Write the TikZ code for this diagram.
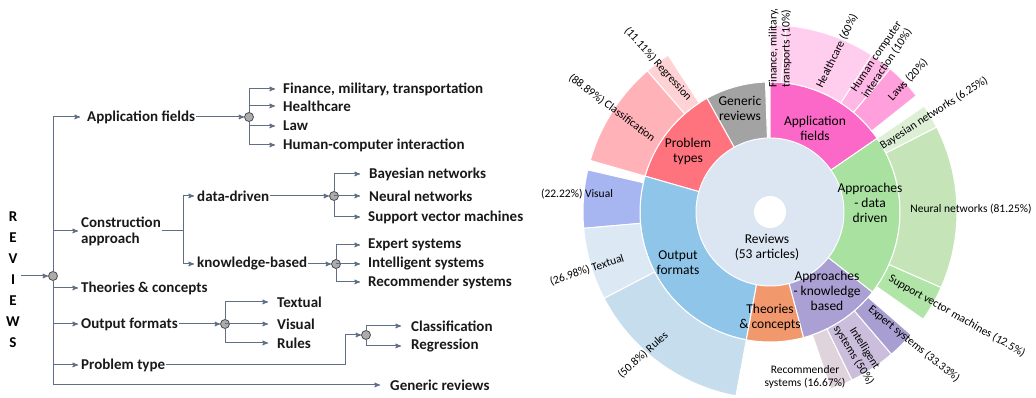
\documentclass[tikz,border=0pt]{standalone}
\usepackage{fontspec}
\setmainfont{Carlito}
\usepackage{xcolor}
\usetikzlibrary{arrows, positioning}

\definecolor{linkgray}{HTML}{5F6F86}
\definecolor{revblue}{HTML}{DCE6F2}
\definecolor{apppink}{HTML}{FB68C7}
\definecolor{finpink}{HTML}{FFD9F2}
\definecolor{healthpink}{HTML}{FFCDED}
\definecolor{hcipink}{HTML}{FFB8E6}
\definecolor{lawspink}{HTML}{FF9FDC}
\definecolor{genericgray}{HTML}{A3A3A3}
\definecolor{probred}{HTML}{FF737E}
\definecolor{classpink}{HTML}{FFB3B9}
\definecolor{regrpink}{HTML}{FFD2D6}
\definecolor{outblue}{HTML}{8FC5E9}
\definecolor{visualblue}{HTML}{A7B5F0}
\definecolor{textualblue}{HTML}{DDE8F5}
\definecolor{rulesblue}{HTML}{C6DDEE}
\definecolor{theoorange}{HTML}{F2986D}
\definecolor{knowpurple}{HTML}{AAA0D3}
\definecolor{expertpurple}{HTML}{A89ED1}
\definecolor{intelpurple}{HTML}{CBBEDC}
\definecolor{recommgray}{HTML}{E0D4DC}
\definecolor{datagreen}{HTML}{A8E1A0}
\definecolor{bayesgreen}{HTML}{DDF0D5}
\definecolor{neuralgreen}{HTML}{C5E5B8}
\definecolor{svmgreen}{HTML}{B1E5A8}

% one piece of a ring: start angle, end angle, inner radius, outer radius, colour
\newcommand{\ringpart}[5]{%
  \fill[#5, draw=white, line width=1pt] (#1:#3pt) arc[start angle=#1, end angle=#2, radius=#3pt]
    -- (#2:#4pt) arc[start angle=#2, end angle=#1, radius=#4pt] -- cycle;}

\begin{document}
\begin{tikzpicture}[x=1pt, y=1pt, >=stealth']
    \tikzstyle{leaf} = [font=\bfseries\fontsize{15}{16}\selectfont, anchor=west, inner sep=1pt, text=black!90]
    \tikzstyle{hub} = [circle, draw=black!70, fill=gray!65, line width=0.8pt, minimum size=9pt, inner sep=0pt]
    \tikzstyle{link} = [draw=linkgray, line width=1pt]
    \tikzstyle{arr} = [link, ->, shorten >=2pt]
    \tikzstyle{seglabel} = [font=\fontsize{13.5}{15}\selectfont, align=center, inner sep=0pt, text=black]
    \tikzstyle{outlabel} = [font=\fontsize{11.5}{13}\selectfont, align=center, inner sep=0pt, text=black]
    \useasboundingbox (0,0) rectangle (1036,398);

    % the tree
    \node [font=\bfseries\fontsize{15}{21}\selectfont, align=center, inner sep=1pt] at (13,118) (reviews) {R\\E\\V\\I\\E\\W\\S};
    \node [hub] at (53,122) (root) {};
    \node [leaf] at (86,281) (appf) {Application fields};
    \node [leaf, align=left] at (80,167) (constr) {Construction\\approach};
    \node [leaf] at (80,110) (theor) {Theories \& concepts};
    \node [leaf] at (80,74) (outf) {Output formats};
    \node [leaf] at (80,33) (probt) {Problem type};
    \node [leaf] at (389,13) (generic) {Generic reviews};

    \node [hub] at (249,281) (capp) {};
    \node [leaf] at (282,309) (fin) {Finance, military, transportation};
    \node [leaf] at (282,292) (health) {Healthcare};
    \node [leaf] at (282,272) (law) {Law};
    \node [leaf] at (282,253) (hci) {Human-computer interaction};

    \coordinate (csplit) at (183,167);
    \node [leaf] at (196,202) (datad) {data-driven};
    \node [leaf] at (196,134) (knowb) {knowledge-based};
    \node [hub] at (334,202) (cdata) {};
    \node [leaf] at (368,224) (bayes) {Bayesian networks};
    \node [leaf] at (368,202) (neural) {Neural networks};
    \node [leaf] at (367,181) (svm) {Support vector machines};
    \node [hub] at (336,134) (cknow) {};
    \node [leaf] at (367,153) (expert) {Expert systems};
    \node [leaf] at (367,134) (intel) {Intelligent systems};
    \node [leaf] at (367,116) (recomm) {Recommender systems};

    \node [hub] at (225,74) (cout) {};
    \node [leaf] at (276,96) (textual) {Textual};
    \node [leaf] at (276,74) (visual) {Visual};
    \node [leaf] at (276,55) (rules) {Rules};

    \coordinate (pbend) at (345,33);
    \node [hub] at (366,63) (cprob) {};
    \node [leaf] at (410,72) (classif) {Classification};
    \node [leaf] at (410,52) (regr) {Regression};

    \draw [link, ->] (reviews.east |- root) -- (root);
    \draw [arr, shorten >=6pt] (root) |- (appf);
    \draw [arr] (root) |- (constr);
    \draw [arr] (root) |- (theor);
    \draw [arr] (root) |- (outf);
    \draw [arr] (root) |- (probt);
    \draw [arr, shorten >=9pt] (root) |- (generic);

    \draw [link, ->] (appf) -- (capp);
    \draw [arr, shorten >=7pt] (capp) |- (fin);
    \draw [arr, shorten >=7pt] (capp) |- (health);
    \draw [arr, shorten >=7pt] (capp) |- (law);
    \draw [arr, shorten >=7pt] (capp) |- (hci);

    \draw [link] (constr.east) -- (csplit);
    \draw [arr] (csplit) |- (datad);
    \draw [arr] (csplit) |- (knowb);
    \draw [link, ->] (datad) -- (cdata);
    \draw [arr, shorten >=8pt] (cdata) |- (bayes);
    \draw [arr, shorten >=8pt] (cdata) |- (neural);
    \draw [arr, shorten >=7pt] (cdata) |- (svm);
    \draw [link, ->] (knowb) -- (cknow);
    \draw [arr, shorten >=7pt] (cknow) |- (expert);
    \draw [arr, shorten >=7pt] (cknow) |- (intel);
    \draw [arr, shorten >=7pt] (cknow) |- (recomm);

    \draw [link, ->] (outf) -- (cout);
    \draw [arr, shorten >=8pt] (cout) |- (textual);
    \draw [arr, shorten >=8pt] (cout) |- (visual);
    \draw [arr, shorten >=8pt] (cout) |- (rules);

    \draw [link, ->] (probt) -- (pbend) |- (cprob);
    \draw [arr, shorten >=9pt] (cprob) |- (classif);
    \draw [arr, shorten >=9pt] (cprob) |- (regr);

    % the sunburst
    \begin{scope}[shift={(770,186)}]
        \fill [revblue] (0,0) circle [radius=74pt];
        \fill [white] (0,0) circle [radius=16pt];
        \ringpart{34.5}{90}{74}{130}{apppink}
        \ringpart{92}{119}{74}{130}{genericgray}
        \ringpart{119}{164}{74}{130}{probred}
        \ringpart{164}{259.5}{74}{130}{outblue}
        \ringpart{-100.5}{-75}{74}{130}{theoorange}
        \ringpart{-75}{-38}{74}{130}{knowpurple}
        \ringpart{-38}{34.5}{74}{130}{datagreen}

        \ringpart{85}{90}{130}{187}{finpink}
        \ringpart{57}{85}{130}{187}{healthpink}
        \ringpart{50}{57}{130}{187}{hcipink}
        \ringpart{38.5}{50}{130}{187}{lawspink}
        \ringpart{123}{131}{130}{187}{regrpink}
        \ringpart{131}{164}{130}{187}{classpink}
        \ringpart{167}{185}{130}{187}{visualblue}
        \ringpart{185}{207.5}{130}{187}{textualblue}
        \ringpart{207.5}{259.5}{130}{187}{rulesblue}
        \ringpart{-71}{-64}{130}{187}{recommgray}
        \ringpart{-64}{-49.5}{130}{187}{intelpurple}
        \ringpart{-49.5}{-41}{130}{187}{expertpurple}
        \ringpart{-35}{-23.8}{130}{187}{svmgreen}
        \ringpart{-23.8}{27}{130}{187}{neuralgreen}
        \ringpart{27}{34.5}{130}{187}{bayesgreen}
    \end{scope}

    \node [seglabel] at (767,151) (revlab) {Reviews\\(53 articles)};
    \node [seglabel] at (815,270) (applab) {Application\\fields};
    \node [seglabel] at (740,290) (genlab) {Generic\\reviews};
    \node [seglabel] at (688,247) (problab) {Problem\\types};
    \node [seglabel] at (678,135) (outlab) {Output\\formats};
    \node [seglabel] at (770,81) (theolab) {Theories\\\& concepts};
    \node [seglabel] at (827,107) (knowlab) {Approaches\\- knowledge\\based};
    \node [seglabel] at (870,195) (datalab) {Approaches\\- data\\driven};

    \node [outlabel, align=left, rotate=90, anchor=west] at (780,310) (finlab) {Finance, military,\\transports (10\%)};
    \node [outlabel, rotate=64] at (837,347) (healthlab) {Healthcare (60\%)};
    \node [outlabel, rotate=56] at (882,338) (hcilab) {Human computer\\interaction (10\%)};
    \node [outlabel, rotate=47] at (908,318) (lawslab) {Laws (20\%)};
    \node [outlabel, rotate=32.5] at (934,285) (bayeslab) {Bayesian networks (6.25\%)};
    \node [outlabel] at (971,189) (neurallab) {Neural networks (81.25\%)};
    \node [outlabel, rotate=-29.5] at (957,82) (svmlab) {Support vector machines (12.5\%)};
    \node [outlabel, rotate=-39] at (914,54) (expertlab) {Expert systems (33.33\%)};
    \node [outlabel, rotate=-58] at (859,46) (intellab) {Intelligent\\systems (50\%)};
    \node [outlabel] at (805,21) (recommlab) {Recommender\\systems (16.67\%)};
    \node [outlabel, rotate=42] at (643,43) (ruleslab) {(50.8\%) Rules};
    \node [outlabel, rotate=18] at (587,128) (textuallab) {(26.98\%) Textual};
    \node [outlabel] at (577,204) (visuallab) {(22.22\%) Visual};
    \node [outlabel, rotate=-37] at (612,290) (classlab) {(88.89\%) Classification};
    \node [outlabel, rotate=-48] at (658,334) (regrlab) {(11.11\%) Regression};
\end{tikzpicture}
\end{document}
